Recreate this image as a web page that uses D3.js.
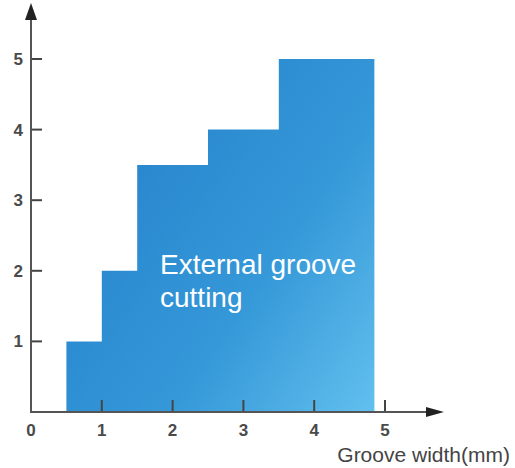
<!DOCTYPE html>
<meta charset="utf-8">
<script src="https://cdn.jsdelivr.net/npm/d3@7"></script>
<style>
body { margin: 0; background: #fff; }
text { font-family: "Liberation Sans", Arial, sans-serif; }
.tick-label { fill: #4a4a4a; font-size: 17px; font-weight: bold; }
.axis-line { stroke: #555; stroke-width: 2px; }
.tick { stroke: #444; stroke-width: 2px; }
</style>
<body>
<div id="chart"></div>
<script>
// step profile: groove width range -> max depth
var stepStart = [0.5, 1, 1.5, 2.5, 3.5];
var stepEnd   = [1, 1.5, 2.5, 3.5, 4.85];
var stepDepth = [1, 2, 3.5, 4, 5];
var xTicks = [0, 1, 2, 3, 4, 5];
var yTicks = [1, 2, 3, 4, 5];
var xTitle = "Groove width(mm)";
var areaLabel = ["External groove", "cutting"];

var width = 515, height = 468;
var x0 = 31, y0 = 412;

var x = d3.scaleLinear().domain([0, 5]).range([x0, 385]);
var y = d3.scaleLinear().domain([0, 5]).range([y0, 59]);

var svg = d3.select("#chart").append("svg")
    .attr("width", width)
    .attr("height", height);

var defs = svg.append("defs");
var grad = defs.append("linearGradient")
    .attr("id", "fill")
    .attr("gradientUnits", "userSpaceOnUse")
    .attr("x1", x(0.5)).attr("y1", y(3))
    .attr("x2", x(4.85)).attr("y2", y(0));
grad.append("stop").attr("offset", "0%").attr("stop-color", "#2784cd");
grad.append("stop").attr("offset", "55%").attr("stop-color", "#3598d8");
grad.append("stop").attr("offset", "100%").attr("stop-color", "#62c0ee");

// build the staircase outline from the step arrays
var pts = [[stepStart[0], 0]];
stepDepth.forEach(function(d, i) {
    pts.push([stepStart[i], d]);
    pts.push([stepEnd[i], d]);
});
pts.push([stepEnd[stepEnd.length - 1], 0]);

var line = d3.line()
    .x(function(d) { return x(d[0]); })
    .y(function(d) { return y(d[1]); });

svg.append("path")
    .attr("d", line(pts) + "Z")
    .attr("fill", "url(#fill)");

// area label
svg.append("g").selectAll("text")
    .data(areaLabel)
    .enter().append("text")
    .attr("x", 160)
    .attr("y", function(d, i) { return 274 + i * 33; })
    .attr("fill", "#fff")
    .attr("font-size", "28px")
    .attr("font-family", "'Open Sans', sans-serif")
    .text(function(d) { return d; });

// x ticks (drawn upward from the axis)
svg.append("g").selectAll("line")
    .data(xTicks.filter(function(d) { return d > 0; }))
    .enter().append("line")
    .attr("class", "tick")
    .attr("x1", function(d) { return x(d); })
    .attr("x2", function(d) { return x(d); })
    .attr("y1", y0)
    .attr("y2", y0 - 12);

svg.append("g").selectAll("text")
    .data(xTicks)
    .enter().append("text")
    .attr("class", "tick-label")
    .attr("text-anchor", "middle")
    .attr("x", function(d) { return x(d); })
    .attr("y", 436)
    .text(function(d) { return d; });

// y ticks
svg.append("g").selectAll("line")
    .data(yTicks)
    .enter().append("line")
    .attr("class", "tick")
    .attr("x1", x0)
    .attr("x2", x0 + 11)
    .attr("y1", function(d) { return y(d); })
    .attr("y2", function(d) { return y(d); });

svg.append("g").selectAll("text")
    .data(yTicks)
    .enter().append("text")
    .attr("class", "tick-label")
    .attr("text-anchor", "end")
    .attr("x", x0 - 8)
    .attr("y", function(d) { return y(d) + 6; })
    .text(function(d) { return d; });

// axes with arrow heads
svg.append("line").attr("class", "axis-line")
    .attr("x1", x0).attr("y1", y0).attr("x2", x0).attr("y2", 18);
svg.append("path")
    .attr("d", "M" + x0 + ",3L" + (x0 - 6) + ",20L" + (x0 + 6) + ",20Z")
    .attr("fill", "#222");

svg.append("line").attr("class", "axis-line")
    .attr("x1", x0 - 1).attr("y1", y0).attr("x2", 428).attr("y2", y0);
svg.append("path")
    .attr("d", "M444," + y0 + "L426," + (y0 - 5) + "L426," + (y0 + 5) + "Z")
    .attr("fill", "#222");

// axis title
svg.append("text")
    .attr("x", 510)
    .attr("y", 462)
    .attr("text-anchor", "end")
    .attr("fill", "#444")
    .attr("font-size", "21px")
    .text(xTitle);
</script>
</body>
</html>
